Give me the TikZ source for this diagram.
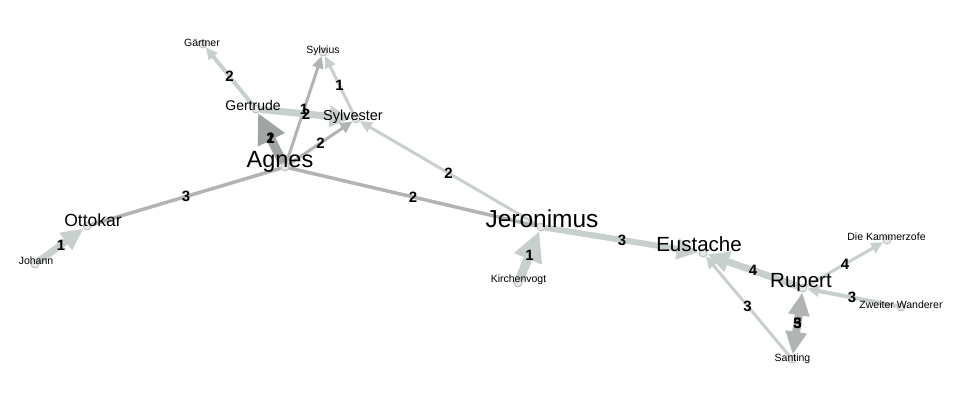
\documentclass[tikz,border=0pt]{standalone}
\usepackage{fontspec}
\setmainfont{Liberation Sans}
\usetikzlibrary{arrows.meta, positioning}
\definecolor{pale}{RGB}{200,208,205}
\definecolor{steel}{RGB}{176,180,179}
\definecolor{slate}{RGB}{160,164,163}
\def\sz#1{\fontsize{#1}{#1}\selectfont}
\tikzstyle{dot}=[circle, draw=pale!90!black, fill=pale!50, line width=0.8pt, inner sep=0pt, minimum size=8pt]
\tikzstyle{huge}=[font=\sz{24.5}, inner sep=0pt]
\tikzstyle{big}=[font=\sz{20.5}, inner sep=0pt]
\tikzstyle{mid}=[font=\sz{17.5}, inner sep=0pt]
\tikzstyle{med}=[font=\sz{14.5}, inner sep=0pt]
\tikzstyle{small}=[font=\sz{10.5}, inner sep=0pt]
\tikzstyle{wt}=[font=\bfseries\sz{15}, inner sep=0pt]
\tikzstyle{slim}=[color=pale, line width=3pt, -{Triangle[length=12pt, width=11pt]}]
\tikzstyle{slimdark}=[color=steel, line width=3pt, -{Triangle[length=12pt, width=11pt]}]
\tikzstyle{plain}=[color=steel, line width=3.5pt]
\tikzstyle{broad}=[color=pale, line width=7pt, -{Triangle[length=22pt, width=20pt]}]
\tikzstyle{heavy}=[color=slate, line width=9pt, -{Triangle[length=30pt, width=28pt]}]

\begin{document}
\begin{tikzpicture}[x=1pt, y=-1pt]
  \useasboundingbox (0,0) rectangle (968,401);

  % characters
  \foreach \n/\x/\y in {gaertner/203/44, sylvius/323/52, gertrude/256/109,
      sylvester/356/119, agnes/285/167, ottokar/87/226, johann/35/264,
      jeronimus/541/227, kirchenvogt/518/283, eustache/703/253, rupert/803/288,
      kammerzofe/887/240, wanderer/901/307, santing/792/359}
    \node[dot] (\n) at (\x,\y) {};

  % relations
  \draw[slim, line width=4pt] (gertrude) -- (gaertner);
  \draw[slimdark] (agnes) -- (sylvius);
  \draw[slim] (sylvester) -- (sylvius);
  \draw[broad] (gertrude) -- (sylvester);
  \draw[heavy] (agnes) -- (gertrude);
  \draw[slimdark] (agnes) -- (sylvester);
  \draw[slim] (jeronimus) -- (sylvester);
  \draw[plain] (agnes) -- (jeronimus);
  \draw[plain] (agnes) -- (ottokar);
  \draw[broad] (johann) -- (ottokar);
  \draw[heavy, color=pale] (kirchenvogt) -- (jeronimus);
  \draw[broad, line width=6pt] (jeronimus) -- (eustache);
  \draw[broad] (rupert) -- (eustache);
  \draw[slim] (santing) -- (eustache);
  \draw[slim] (rupert) -- (kammerzofe);
  \draw[slim, line width=4pt] (wanderer) -- (rupert);
  \draw[broad, color=steel, line width=8pt,
        {Triangle[length=23pt, width=20pt]}-{Triangle[length=23pt, width=20pt]}] (rupert) -- (santing);

  % weights
  \path (gertrude) -- node[wt] {2} (gaertner);
  \path (agnes) -- node[wt] {1} (sylvius);
  \path (sylvester) -- node[wt] {1} (sylvius);
  \path (gertrude) -- node[wt] {2} (sylvester);
  \path (agnes) -- node[wt] {1} (gertrude);
  \path (agnes) -- node[wt] {2} (gertrude);
  \path (agnes) -- node[wt] {2} (sylvester);
  \path (jeronimus) -- node[wt] {2} (sylvester);
  \path (agnes) -- node[wt] {2} (jeronimus);
  \path (agnes) -- node[wt] {3} (ottokar);
  \path (johann) -- node[wt] {1} (ottokar);
  \path (kirchenvogt) -- node[wt] {1} (jeronimus);
  \path (jeronimus) -- node[wt] {3} (eustache);
  \path (rupert) -- node[wt] {4} (eustache);
  \path (santing) -- node[wt] {3} (eustache);
  \path (rupert) -- node[wt] {4} (kammerzofe);
  \path (wanderer) -- node[wt] {3} (rupert);
  \path (rupert) -- node[wt] {3} (santing);
  \path (rupert) -- node[wt] {5} (santing);

  % names
  \node[small] (tGaertner) at (202,42.5) {Gärtner};
  \node[small] (tSylvius) at (323,51) {Sylvius};
  \node[med, font=\sz{14}] (tGertrude) at (253,105.5) {Gertrude};
  \node[med] (tSylvester) at (353,116.5) {Sylvester};
  \node[huge, font=\sz{23.5}] (tAgnes) at (280,162) {Agnes};
  \node[mid] (tOttokar) at (93,220.5) {Ottokar};
  \node[small] (tJohann) at (36,261) {Johann};
  \node[huge] (tJeronimus) at (542,219) {Jeronimus};
  \node[small] (tKirchenvogt) at (518.5,279.5) {Kirchenvogt};
  \node[big] (tEustache) at (699,244) {Eustache};
  \node[big] (tRupert) at (801,282.5) {Rupert};
  \node[small] (tKammerzofe) at (886.5,237) {Die Kammerzofe};
  \node[small] (tWanderer) at (901,304.5) {Zweiter Wanderer};
  \node[small] (tSanting) at (792.5,358.5) {Santing};
\end{tikzpicture}
\end{document}
